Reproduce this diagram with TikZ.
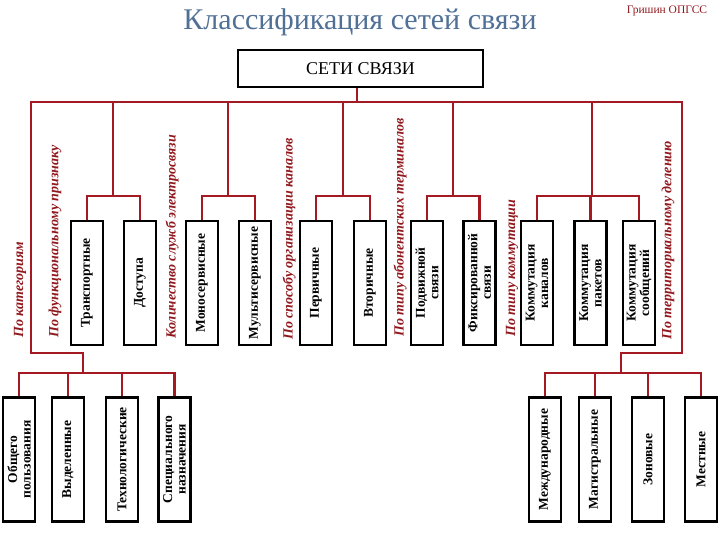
\documentclass[tikz,border=0pt]{standalone}
\usepackage{fontspec}
\setmainfont{Liberation Serif}
\usepackage{tikz}
\usetikzlibrary{calc, positioning}

\definecolor{titleblue}{RGB}{80,112,150}
\definecolor{linered}{RGB}{165,25,35}
\definecolor{critred}{RGB}{145,25,30}

\tikzset{
    link/.style={line width=2.2pt, linered},
    sortbox/.style={draw, line width=2.5pt, rotate=90, minimum width=124pt, minimum height=32pt,
        inner sep=1pt, align=center, font=\fontsize{13.5}{13.5}\selectfont\bfseries},
    crit/.style={rotate=90, anchor=west, inner sep=0pt, text=critred,
        font=\fontsize{14}{14}\selectfont\bfseries\itshape}
}

\begin{document}
\begin{tikzpicture}[x=1pt, y={(0pt,-1pt)}]
    \useasboundingbox (0,0) rectangle (720,540);

    % header
    \node[anchor=base, text=titleblue, font=\fontsize{30}{30}\selectfont] (title) at (360,30) {Классификация сетей связи};
    \node[anchor=base, text=critred, font=\fontsize{11.5}{11.5}\selectfont] (author) at (667,14) {Гришин ОПГСС};
    \node[draw, line width=2.5pt, minimum width=245pt, minimum height=37pt, font=\fontsize{18}{18}\selectfont] (root) at (360.5,68.5) {СЕТИ СВЯЗИ};

    % top bus and side branches
    \coordinate (busL) at (31,102);
    \coordinate (busR) at (682,102);
    \coordinate (katbend) at (31,353);
    \coordinate (terbend) at (682,353);
    \coordinate (jl) at (83,373);
    \coordinate (jr) at (621,373);
    \coordinate (stem) at ($(root.south)+(-3.5,0)$);
    \draw[link] (stem) -- (stem |- busL);
    \draw[link] (jl) |- (katbend) -- (busL) -- (busR) -- (terbend) -| (jr);

    % upper boxes
    \begin{scope}
        \node[sortbox] (trans) at (87,283) {Транспортные};
        \node[sortbox] (dost) at (140,283) {Доступа};
        \node[sortbox] (mono) at (202,283) {Моносервисные};
        \node[sortbox] (multi) at (255,283) {Мультисервисные};
        \node[sortbox] (perv) at (316,283) {Первичные};
        \node[sortbox] (vtor) at (370,283) {Вторичные};
        \node[sortbox] (podv) at (427,283) {Подвижной\\связи};
        \node[sortbox] (fiks) at (479.5,283) {Фиксированной\\связи};
        \node[sortbox] (kkan) at (537,283) {Коммутация\\каналов};
        \node[sortbox] (kpak) at (590.5,283) {Коммутация\\пакетов};
        \node[sortbox] (ksoob) at (639,283) {Коммутация\\сообщений};
    \end{scope}

    % group junctions on the upper level
    \coordinate (gfun) at (113,196);
    \coordinate (gserv) at (228,196);
    \coordinate (gorg) at (343,196);
    \coordinate (gterm) at (453,196);
    \coordinate (gkom) at (592,196);
    \foreach \g in {gfun, gserv, gorg, gterm, gkom}
        \draw[link] (\g) -- (\g |- busL);
    \draw[link] (trans.east) |- (gfun) -| (dost.east);
    \draw[link] (mono.east) |- (gserv) -| (multi.east);
    \draw[link] (perv.east) |- (gorg) -| (vtor.east);
    \draw[link] (podv.east) |- (gterm) -| (fiks.east);
    \draw[link] (kkan.east) |- (gkom) -| (ksoob.east);
    \draw[link] (kpak.east) -- (kpak.east |- gkom);

    % lower left boxes
    \node[sortbox] (obsh) at (19,459.5) {Общего\\пользования};
    \node[sortbox] (vyd) at (68,459.5) {Выделенные};
    \node[sortbox] (tech) at (122,459.5) {Технологические};
    \node[sortbox] (spec) at (174.5,459.5) {Специального\\назначения};
    \draw[link] (obsh.east) |- (jl) -| (spec.east);
    \draw[link] (vyd.east) -- (vyd.east |- jl);
    \draw[link] (tech.east) -- (tech.east |- jl);

    % lower right boxes
    \node[sortbox] (mezh) at (545,459.5) {Международные};
    \node[sortbox] (magi) at (595,459.5) {Магистральные};
    \node[sortbox] (zon) at (648,459.5) {Зоновые};
    \node[sortbox] (mest) at (701,459.5) {Местные};
    \draw[link] (mezh.east) |- (jr) -| (mest.east);
    \draw[link] (magi.east) -- (magi.east |- jr);
    \draw[link] (zon.east) -- (zon.east |- jr);

    % criteria
    \node[crit] (ckat) at (20,338) {По категориям};
    \node[crit] (cfun) at (55,338) {По функциональному признаку};
    \node[crit] (cserv) at (172,339) {Количество служб электросвязи};
    \node[crit] (corg) at (289,340) {По способу организации каналов};
    \node[crit] (cterm) at (400,337) {По типу абонентских терминалов};
    \node[crit] (ckom) at (512,337) {По типу коммутации};
    \node[crit] (cter) at (668,340) {По территориальному делению};
\end{tikzpicture}
\end{document}
